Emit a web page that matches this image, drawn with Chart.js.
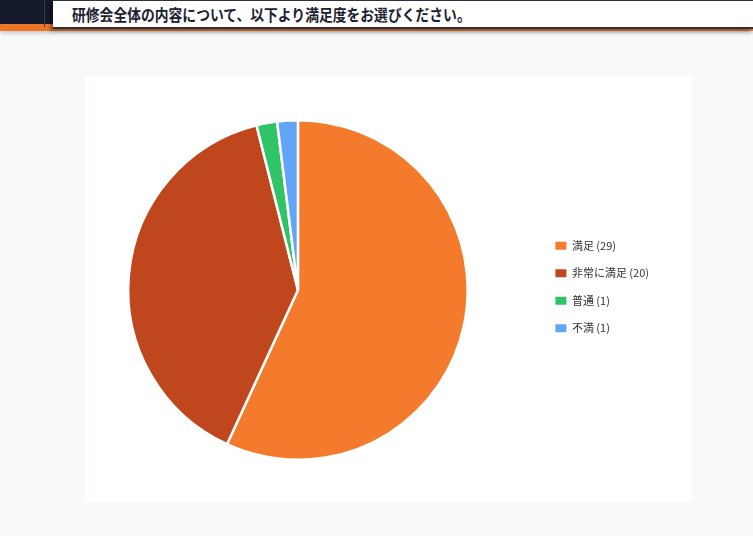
<!DOCTYPE html>
<html lang="ja">
<head>
<meta charset="utf-8">
<script src="https://cdn.jsdelivr.net/npm/chart.js@4.4.1/dist/chart.umd.min.js"></script>
<style>
  html,body{margin:0;padding:0;}
  body{width:753px;height:536px;background:#f8f9fb;position:relative;overflow:hidden;font-family:"Noto Sans CJK JP","Noto Sans",sans-serif;}
  #topbar{position:absolute;left:0;top:0;width:753px;height:24px;background:#141a2c;}
  #orange{position:absolute;left:0;top:24px;width:753px;height:7px;background:#ee7526;box-shadow:0 2px 4px rgba(0,0,0,0.22);}
  #vline{position:absolute;left:44px;top:0;width:1px;height:27px;background:#343b4f;}
  #titlebox{position:absolute;left:53px;top:0;width:700px;height:26px;background:#fff;border-top:1px solid #2a3142;border-bottom:2px solid #2a3142;box-shadow:-3px 2px 3px rgba(0,0,0,0.35);}
  #title{position:absolute;left:19px;top:0;line-height:26px;font-size:15.5px;font-weight:bold;color:#1c2130;white-space:nowrap;transform:scaleX(0.89);transform-origin:left center;}
  #card{position:absolute;left:85px;top:76px;width:607px;height:426px;background:#fff;}
  #wrap{position:absolute;left:57px;top:119px;width:602px;height:342px;}
</style>
</head>
<body>
<div id="topbar"></div>
<div id="orange"></div>
<div id="vline"></div>
<div id="titlebox"><div id="title">研修会全体の内容について、以下より満足度をお選びください。</div></div>
<div id="card"></div>
<div id="wrap"><canvas id="c"></canvas></div>
<script>
const categories = ["満足", "非常に満足", "普通", "不満"];
const counts = [29, 20, 1, 1];
const colors = ["#f47a2c", "#bf461d", "#2fc466", "#62a4f7"];

const labels = categories.map((c, i) => c + " (" + counts[i] + ")");

const legendShift = {
  id: "legendShift",
  afterLayout(chart) {
    if (chart.legend) {
      chart.legend.top -= 3;
      chart.legend.bottom -= 3;
    }
  }
};

new Chart(document.getElementById("c"), {
  type: "pie",
  data: {
    labels: labels,
    datasets: [{
      data: counts,
      backgroundColor: colors,
      borderColor: "#ffffff",
      borderWidth: 2.5
    }]
  },
  plugins: [legendShift],
  options: {
    responsive: true,
    maintainAspectRatio: false,
    animation: false,
    layout: { padding: 0 },
    plugins: {
      tooltip: { enabled: false },
      legend: {
        position: "right",
        labels: {
          font: { family: "'Noto Sans CJK JP', 'Noto Sans', sans-serif", size: 11 },
          color: "#333333",
          boxWidth: 11,
          boxHeight: 8,
          padding: 16.5,
          generateLabels: function(chart) {
            const items = Chart.overrides.pie.plugins.legend.labels.generateLabels(chart);
            items.forEach(it => { it.lineWidth = 0; });
            return items;
          }
        }
      }
    }
  }
});
</script>
</body>
</html>
